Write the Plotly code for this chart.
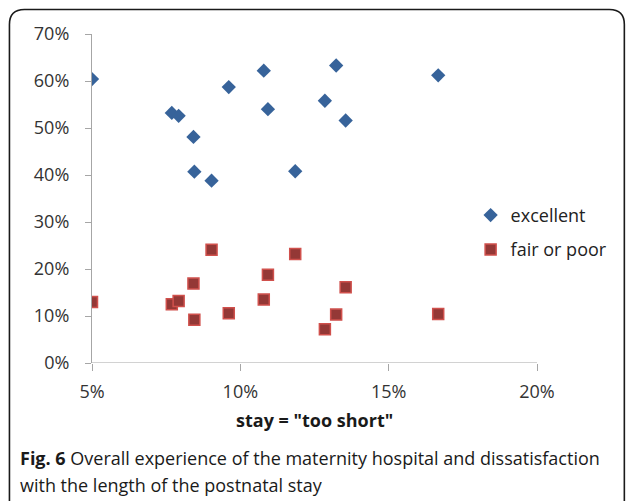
import plotly.graph_objects as go

stay_too_short = [5.0, 7.69, 7.92, 8.42, 8.45, 9.03, 9.61, 10.79, 10.93, 11.85, 12.85, 13.23, 13.55, 16.67]
excellent = [60.4, 53.2, 52.6, 48.1, 40.7, 38.8, 58.7, 62.2, 54.0, 40.8, 55.8, 63.3, 51.6, 61.2]
fair_or_poor = [13.0, 12.5, 13.2, 16.9, 9.2, 24.1, 10.6, 13.5, 18.8, 23.2, 7.2, 10.3, 16.1, 10.4]
x_ticks = [5, 10, 15, 20]
x_tick_labels = ["5%", "10%", "15%", "20%"]
y_ticks = [0, 10, 20, 30, 40, 50, 60, 70]
y_tick_labels = ["0%", "10%", "20%", "30%", "40%", "50%", "60%", "70%"]

W, H = 627, 501
L, R, T, B = 91.7, 537.5, 34, 363.3

def px(x):
    return (x - L) / (R - L)

def py(y):
    return (B - y) / (B - T)

FONT = "Open Sans"

fig = go.Figure()
fig.add_trace(go.Scatter(
    x=stay_too_short, y=excellent, mode="markers", name="excellent",
    legendgroup="a",
    marker=dict(symbol="diamond", size=11, color="#37639a", line=dict(width=0)),
))
fig.add_trace(go.Scatter(
    x=stay_too_short, y=fair_or_poor, mode="markers", name="fair or poor",
    legendgroup="b",
    marker=dict(symbol="square", size=11, color="#943836", line=dict(width=1.5, color="#d0504c")),
))

# rounded border
x0, x1, y0, y1 = px(9), px(625), py(9.5), py(530)
rx = 15 / (R - L)
ry = 15 / (B - T)
path = (f"M {x0},{y1} L {x0},{y0 - ry} Q {x0},{y0} {x0 + rx},{y0} "
        f"L {x1 - rx},{y0} Q {x1},{y0} {x1},{y0 - ry} L {x1},{y1}")
fig.add_shape(type="path", xref="paper", yref="paper", path=path,
              line=dict(color="#1a1a1a", width=1.6))

fig.add_annotation(xref="paper", yref="paper", x=px(18), y=py(458), xanchor="left", yanchor="middle",
                   text="<b>Fig. 6</b> Overall experience of the maternity hospital and dissatisfaction",
                   showarrow=False, font=dict(family=FONT, size=18, color="#1a1a1a"))
fig.add_annotation(xref="paper", yref="paper", x=px(18), y=py(485), xanchor="left", yanchor="middle",
                   text="with the length of the postnatal stay",
                   showarrow=False, font=dict(family=FONT, size=18, color="#1a1a1a"))

fig.add_annotation(xref="paper", yref="paper", x=0.5, y=py(420), xanchor="center", yanchor="middle",
                   text="<b>stay = \"too short\"</b>",
                   showarrow=False, font=dict(family=FONT, size=18, color="#1a1a1a"))

fig.update_layout(
    width=W, height=H,
    margin=dict(l=L, r=W - R, t=T, b=H - B, autoexpand=False),
    paper_bgcolor="white", plot_bgcolor="white",
    font=dict(family=FONT, size=17, color="#333333"),
    showlegend=True,
    legend=dict(x=px(471), y=py(197), xanchor="left", yanchor="top",
                font=dict(family=FONT, size=18, color="#222222"), tracegroupgap=8,
                itemwidth=30, bgcolor="rgba(0,0,0,0)"),
    xaxis=dict(range=[5, 20], tickvals=x_ticks, ticktext=x_tick_labels,
               showgrid=False, zeroline=False, showline=False,
               ticks="outside", ticklen=7, tickcolor="#a6a6a6", tickwidth=1.2,
               ticklabelstandoff=5,
               tickfont=dict(family=FONT, size=18, color="#333333")),
    yaxis=dict(range=[0, 70], tickvals=y_ticks, ticktext=y_tick_labels,
               showgrid=False, zeroline=False, showline=True, linecolor="#a6a6a6", linewidth=1.2,
               ticks="outside", ticklen=6, tickcolor="#a6a6a6", tickwidth=1.2,
               ticklabelstandoff=12,
               tickfont=dict(family=FONT, size=18, color="#333333")),
)
# x axis baseline at 0%
fig.add_shape(type="line", xref="paper", yref="y", x0=0, x1=1, y0=0, y1=0,
              line=dict(color="#a6a6a6", width=1.2))

fig.write_html("out.html", config={"displayModeBar": False},
               post_script="document.body.style.margin='0';")
